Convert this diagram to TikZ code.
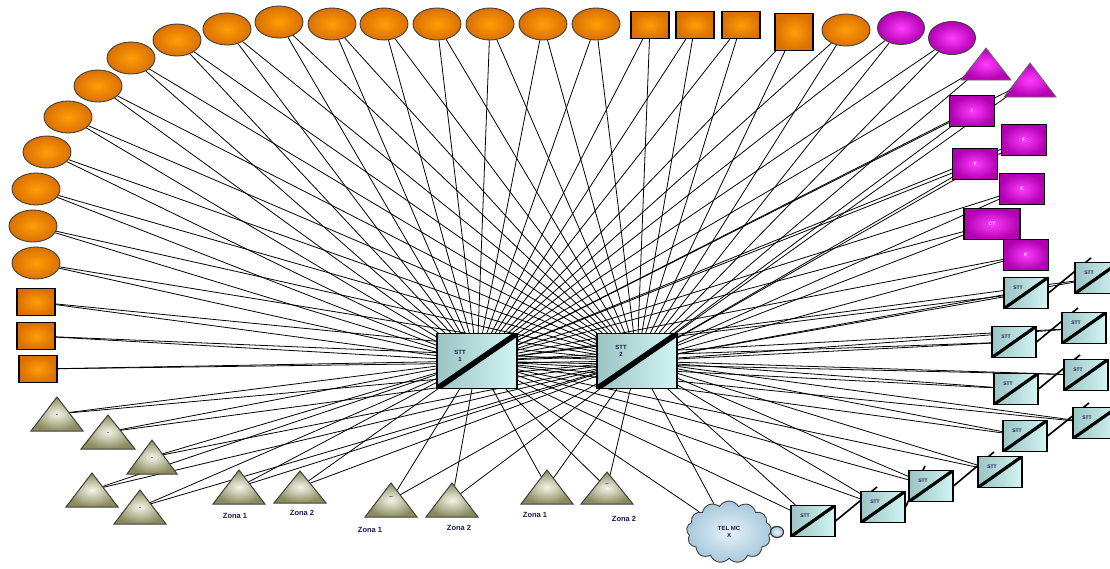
\documentclass[tikz,border=0pt]{standalone}
\usepackage{fontspec}
\setmainfont{Liberation Sans}
\usetikzlibrary{shapes.geometric,shapes.symbols,calc}
\pgfdeclarelayer{background}
\pgfsetlayers{background,main}
\definecolor{orgL}{HTML}{FF9E08}
\definecolor{orgD}{HTML}{DA7000}
\definecolor{magL}{HTML}{FF3CFF}
\definecolor{magD}{HTML}{B000B0}
\definecolor{triL}{HTML}{F4F4EA}
\definecolor{triD}{HTML}{8A8A5C}
\definecolor{tealA}{HTML}{9CC4C4}
\definecolor{tealB}{HTML}{D2F4F4}
\definecolor{cloudL}{HTML}{E4F2FA}
\definecolor{cloudD}{HTML}{A8C8DC}
\definecolor{txt}{HTML}{1A1A50}
\tikzset{
  wire/.style={draw=black, line width=0.8pt},
  chainln/.style={draw=black, line width=1.6pt},
  oell/.style={ellipse, draw=black!75, line width=0.9pt, inner color=orgL, outer color=orgD, minimum width=48pt, minimum height=32pt, inner sep=0pt},
  orect/.style={rectangle, draw=black, line width=1.1pt, inner color=orgL, outer color=orgD, minimum width=38pt, minimum height=27pt, inner sep=0pt},
  mell/.style={ellipse, draw=black!75, line width=0.9pt, inner color=magL, outer color=magD, minimum width=47pt, minimum height=33pt, inner sep=0pt},
  mbox/.style={rectangle, draw=black, line width=1.1pt, inner color=magL, outer color=magD, minimum width=45pt, minimum height=31pt, inner sep=0pt, text=white, font=\bfseries\fontsize{5}{6}\selectfont},
  bigstt/.style={rectangle, draw=black, line width=1.1pt, left color=tealA, right color=tealB, minimum width=80pt, minimum height=55pt, inner sep=0pt,
    path picture={\draw[draw=black, line width=5.5pt] (path picture bounding box.south west) -- (path picture bounding box.north east);}},
  smallstt/.style={rectangle, draw=black, line width=1.1pt, left color=tealA, right color=tealB, minimum width=44pt, minimum height=31pt, inner sep=0pt,
    path picture={\draw[draw=black, line width=3.2pt] (path picture bounding box.south west) -- (path picture bounding box.north east);}},
  sttlbl/.style={font=\bfseries\fontsize{6}{7}\selectfont, align=center, text=txt},
  ssttlbl/.style={font=\bfseries\fontsize{5}{6}\selectfont, text=txt},
  trishape/.style={draw=black!75, line width=1pt, inner color=triL, outer color=triD},
  mtrishape/.style={draw=black!60, line width=0.8pt, inner color=magL, outer color=magD},
  trimark/.style={font=\bfseries\fontsize{6}{6}\selectfont, text=txt, inner sep=0pt},
  zlbl/.style={font=\bfseries\fontsize{7.5}{9}\selectfont, text=txt},
  cloudnode/.style={cloud, cloud puffs=13, cloud puff arc=120, aspect=1.35, draw=black!75, line width=0.9pt, inner color=cloudL, outer color=cloudD, minimum width=85pt, minimum height=62pt, inner sep=0pt, align=center, font=\bfseries\fontsize{6}{7}\selectfont, text=txt},
}
\newcommand\mytri[6]{%
  \coordinate (#1) at (#2,#3);
  \path[#6] ($(#1)+(-#4,#5)$) -- ($(#1)+(0,-#5)$) -- ($(#1)+(#4,#5)$) -- cycle;
}
\begin{document}
\begin{tikzpicture}[x=1pt, y=-1pt]
\useasboundingbox (0,0) rectangle (1110,568);
% central STT boxes
\node[bigstt, label={[sttlbl, xshift=-17pt, yshift=5pt]center:{STT\\1}}] (s1) at (477,361) {};
\node[bigstt, label={[sttlbl, xshift=-16pt, yshift=10pt]center:{STT\\2}}] (s2) at (637,361) {};
% orange ellipses
\node[oell] (o1) at (36,263) {};
\node[oell] (o2) at (33,226) {};
\node[oell] (o3) at (36,189) {};
\node[oell] (o4) at (47,152) {};
\node[oell] (o5) at (68,117) {};
\node[oell] (o6) at (98,86) {};
\node[oell] (o7) at (131,58) {};
\node[oell] (o8) at (177,40) {};
\node[oell] (o9) at (227,29) {};
\node[oell] (o10) at (279,22) {};
\node[oell] (o11) at (332,24) {};
\node[oell] (o12) at (384,24) {};
\node[oell] (o13) at (437,24) {};
\node[oell] (o14) at (490,24) {};
\node[oell] (o15) at (543,24) {};
\node[oell] (o16) at (596,24) {};
\node[oell] (o17) at (846,30) {};
% orange rectangles
\node[orect] (r1) at (36,302) {};
\node[orect] (r2) at (36,336) {};
\node[orect] (r3) at (38,369) {};
\node[orect] (r4) at (650,25) {};
\node[orect] (r5) at (695,25) {};
\node[orect] (r6) at (741,25) {};
\node[orect, minimum height=37pt] (r7) at (794,32) {};
% magenta
\node[mell] (m1) at (901,28) {};
\node[mell] (m2) at (952,38) {};
\mytri{mt1}{986}{64}{25}{16}{mtrishape}
\mytri{mt2}{1030}{80}{26}{17}{mtrishape}
\node[mbox] (mb1) at (972,111) {I};
\node[mbox] (mb2) at (1024,140) {F};
\node[mbox] (mb3) at (975,164) {Y};
\node[mbox] (mb4) at (1022,189) {F};
\node[mbox, minimum width=56pt] (mb5) at (992,224) {CT};
\node[mbox] (mb6) at (1026,255) {F};
% olive triangles
\mytri{t1}{57}{414}{26}{17}{trishape}
\mytri{t2}{108}{432}{27}{17}{trishape}
\mytri{t3}{152}{457}{25}{17}{trishape}
\mytri{t4}{92}{490}{26}{17}{trishape}
\mytri{t5}{140}{507}{26}{17}{trishape}
\mytri{t6}{239}{487}{26}{17}{trishape}
\mytri{t7}{300}{487}{26}{16}{trishape}
\mytri{t8}{391}{500}{26}{17}{trishape}
\mytri{t9}{452}{500}{26}{17}{trishape}
\mytri{t10}{547}{487}{26}{17}{trishape}
\mytri{t11}{607}{488}{26}{16}{trishape}
\node[trimark] (k1) at ($(t1)+(0,2)$) {-};
\node[trimark] (k2) at ($(t2)+(0,2)$) {-};
\node[trimark] (k3) at ($(t3)+(0,2)$) {-};
\node[trimark] (k5) at ($(t5)+(0,2)$) {-};
\node[trimark] (k8) at ($(t8)+(0,-2)$) {--};
\node[trimark] (k11) at ($(t11)+(0,-3)$) {--};
\node[zlbl] (z6) at (235,516) {Zona 1};
\node[zlbl] (z7) at (302,513) {Zona 2};
\node[zlbl] (z8) at (370,530) {Zona 1};
\node[zlbl] (z9) at (459,528) {Zona 2};
\node[zlbl] (z10) at (535,515) {Zona 1};
\node[zlbl] (z11) at (624,519) {Zona 2};
% cloud
\node[cloudnode] (cl) at (729,532) {TEL MC\\X};
\node[ellipse, draw=black!80, line width=1.2pt, inner color=cloudL, outer color=cloudD, minimum width=13pt, minimum height=11pt, inner sep=0pt] (cl2) at (777,532) {};
% small STT boxes
\foreach \nm/\px/\py in {a/1026/293, b/1097/278, c/1014/342, d/1084/328, e/1016/389, f/1086/375, g/1025/436, h/1095/423, i/813/521, j/883/507, k/931/486, l/1000/472}{
  \node[smallstt, label={[ssttlbl, xshift=-8pt, yshift=5pt]center:STT}] (\nm) at (\px,\py) {};
}
% connectors
\begin{pgfonlayer}{background}
\foreach \n in {o1,o2,o3,o4,o5,o6,o7,o8,o9,o10,o11,o12,o13,o14,o15,o16,o17,r1,r2,r3,r4,r5,r6,r7,m1,m2,mt1,mt2,mb1,mb2,mb3,mb4,mb5,mb6,t1,t2,t3,t4,t5,t6,t7,t8,t9,t10,t11,cl,a,b,c,d,e,f,g,h,i,j,k,l}{
  \draw[wire] (\n) -- (s1);
  \draw[wire] (\n) -- (s2);
}
\foreach \p/\q in {a/b, c/d, e/f, g/h, i/j, j/k, k/l}{
  \draw[chainln] (\p.east) -- ($(\q.north)+(-6,-4)$);
}
\end{pgfonlayer}
\end{tikzpicture}
\end{document}
